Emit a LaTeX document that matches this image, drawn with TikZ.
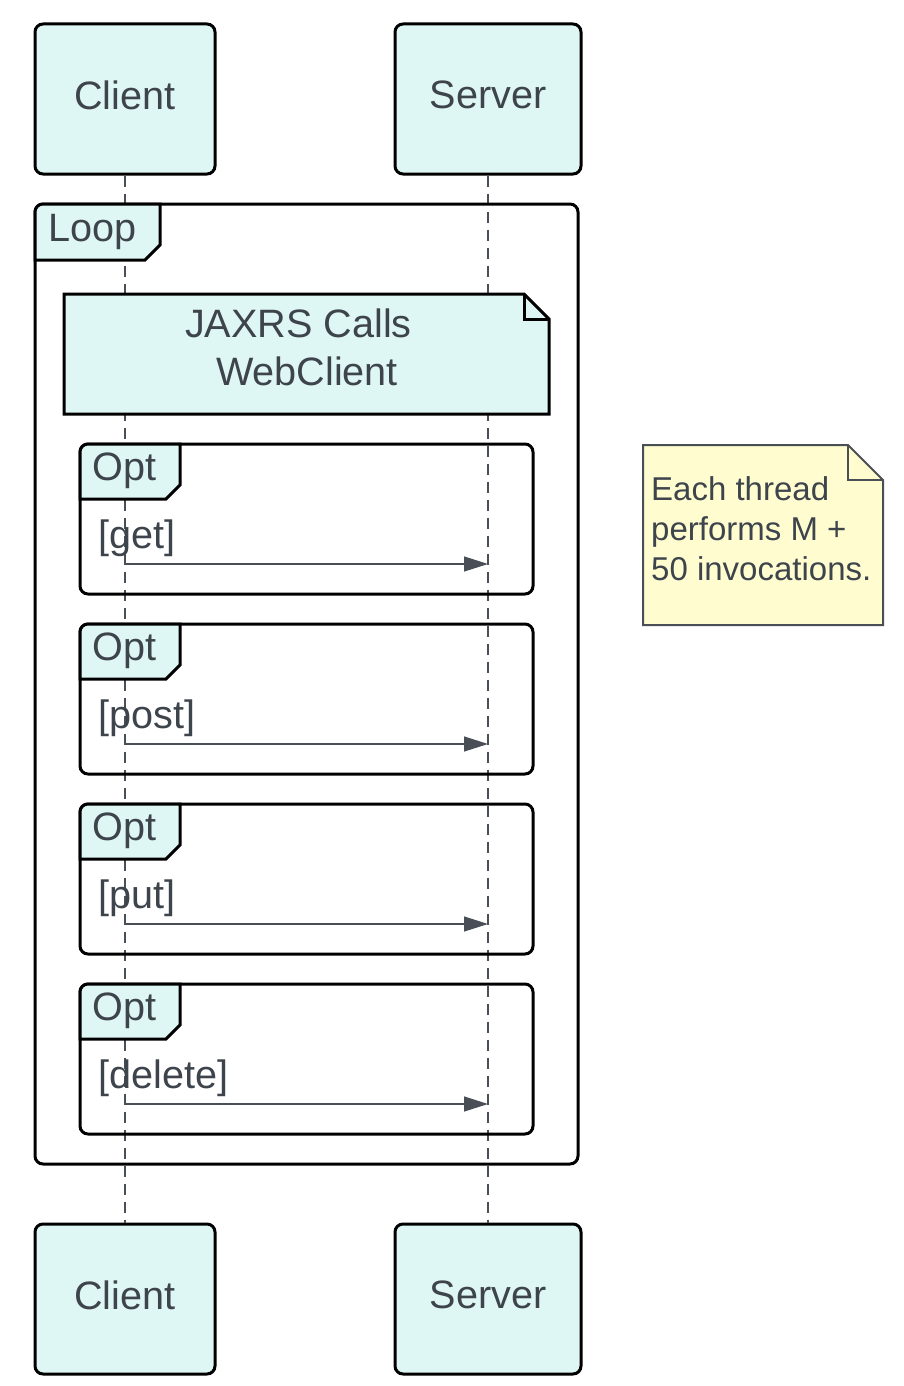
\documentclass[tikz,border=0pt]{standalone}
\usepackage{fontspec}
\setmainfont{Liberation Sans}
\usetikzlibrary{arrows.meta}
\definecolor{fillc}{HTML}{DFF7F4}
\definecolor{txtc}{HTML}{3E444C}
\definecolor{notey}{HTML}{FFFCCF}
\definecolor{notel}{HTML}{4A4F55}
\definecolor{linec}{HTML}{4A4F57}
\newcommand\mybigfont{\fontsize{39.6}{47}\selectfont}
\newcommand\mynotefont{\fontsize{33}{40}\selectfont}
\begin{document}
\begin{tikzpicture}[x=1pt,y=-1pt,
  actor/.style={draw=black, line width=3pt, fill=fillc, rounded corners=8pt,
    inner sep=0pt, text=txtc, font=\mybigfont, text depth=8pt},
  lifeline/.style={draw=notel, line width=1.5pt, dash pattern=on 11pt off 7pt},
  framebox/.style={draw=black, line width=3pt, rounded corners=8pt, inner sep=0pt},
  tabfill/.style={draw=black, line width=3pt, fill=fillc},
  lbl/.style={text=txtc, font=\mybigfont, inner sep=0pt, anchor=base west},
  msg/.style={draw=linec, line width=1.3pt, -{Triangle[length=24pt,width=15pt]}},
  notefold/.style={draw=black, line width=3pt, fill=fillc},
  ntxt/.style={text=txtc, font=\mynotefont, inner sep=0pt, anchor=base west}
]
\useasboundingbox (0,0) rectangle (904,1386);

% actors
\node[actor, minimum width=180pt, minimum height=150pt] (ctop) at (125,99) {Client};
\node[actor, minimum width=186pt, minimum height=150pt] (stop) at (488,99) {Server};
\node[actor, minimum width=180pt, minimum height=150pt] (cbot) at (125,1299) {Client};
\node[actor, minimum width=186pt, minimum height=150pt] (sbot) at (488,1299) {Server};

% lifelines
\draw[lifeline] (ctop.south) -- (cbot.north);
\draw[lifeline] (stop.south) -- (sbot.north);

% loop frame
\node[framebox, minimum width=543pt, minimum height=960pt] (loop) at (306.5,684) {};
\path[tabfill] [rounded corners=8pt] (35,260) -- (35,204) [sharp corners] -- (160,204) -- (160,245) -- (145,260) -- cycle;
\node[lbl] (looplbl) at (48,241) {Loop};

% JAXRS note
\path[notefold] (64,294) -- (524,294) -- (549,319) -- (549,414) -- (64,414) -- cycle;
\draw[black, line width=3pt] (524,294) -- (524,319) -- (549,319);
\node[lbl, anchor=base] (jax1) at (298.5,337) {JAXRS Calls};
\node[lbl, anchor=base] (jax2) at (307,385) {WebClient};

% opt frames
\foreach \t/\g/\n in {444/get/1, 624/post/2, 804/put/3, 984/delete/4}{
  \node[framebox, minimum width=453pt, minimum height=150pt] (opt\n) at (306.5,\t+75) {};
  \path[tabfill] [rounded corners=8pt] (80,\t+55) -- (80,\t) [sharp corners] -- (180,\t) -- (180,\t+41) -- (166,\t+55) -- cycle;
  \node[lbl] (optlbl\n) at (92,\t+36) {Opt};
  \node[lbl] (guard\n) at (98,\t+104) {[\g]};
  \coordinate (cm\n) at (125,\t+120);
  \coordinate (sm\n) at (488,\t+120);
  \draw[msg] (cm\n) -- (sm\n);
}

% yellow note
\path[draw=notel, line width=2pt, fill=notey] (643,445) -- (848,445) -- (883,480) -- (883,625) -- (643,625) -- cycle;
\draw[notel, line width=2pt] (848,445) -- (848,480) -- (883,480);
\node[ntxt] (n1) at (651,500) {Each thread};
\node[ntxt] (n2) at (651,540) {performs M +};
\node[ntxt] (n3) at (651,580) {50 invocations.};
\end{tikzpicture}
\end{document}
